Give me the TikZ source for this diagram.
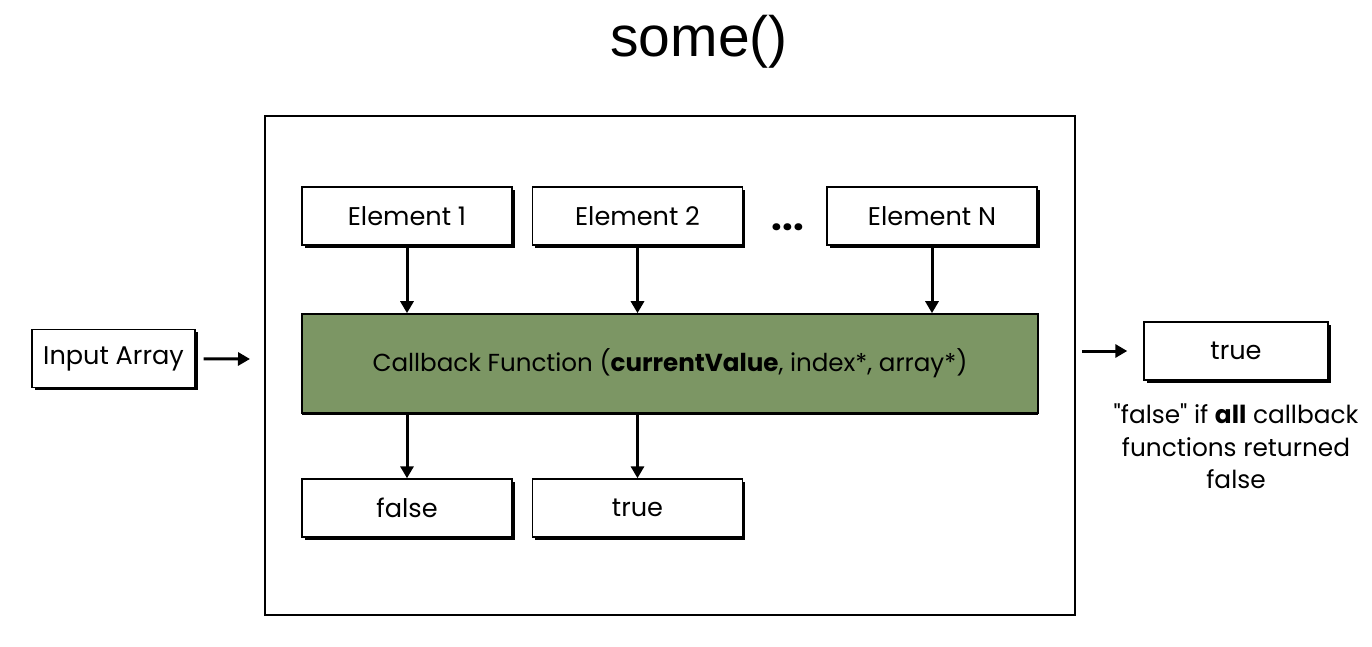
\documentclass[tikz,border=0pt]{standalone}
\usepackage{fontspec}
\setmainfont{Poppins}
\newfontfamily\titlefont{Liberation Sans}
\usetikzlibrary{positioning,arrows.meta,shadows}
\definecolor{cbgreen}{RGB}{124,150,100}
\tikzset{
    card/.style={%
        draw, line width=0.7pt, fill=white,
        minimum width=#1,
        minimum height=29pt,
        font=\fontsize{12.8}{15}\selectfont,
        drop shadow={shadow xshift=1.4pt, shadow yshift=-1.4pt, fill=black, opacity=1}
    },
    card/.default=105pt,
    >={Triangle[width=6.5pt,length=6pt]},
    flow/.style={->, line width=1.5pt}
}
\begin{document}
\begin{tikzpicture}[x=0.5pt, y=-0.5pt]
    \useasboundingbox (0,0) rectangle (1372,647);
    \node[font=\titlefont\fontsize{28.5}{30}\selectfont] (title) at (699,42) {some()};
    \draw[line width=1pt] (265,116) rectangle (1075,615);
    % elements of the array
    \node[card] (E1) at (407,216) {Element 1};
    \node[card] (E2) at (637.5,216) {Element 2};
    \node[card] (EN) at (932,216) {Element N};
    \node[font=\fontsize{19}{19}\selectfont\bfseries] (dots) at (788,227) {...};
    % callback
    \node[draw, line width=0.8pt, fill=cbgreen, minimum width=368pt, minimum height=49.5pt,
          font=\fontsize{12.3}{15}\selectfont,
          drop shadow={shadow xshift=0pt, shadow yshift=-1pt, fill=black, opacity=1}]
          (CB) at (670,363.5) {Callback Function (\textbf{currentValue}, index*, array*)};
    % results
    \node[card] (F) at (407,508) {false};
    \node[card] (T) at (637.5,508) {true};
    \foreach \e in {E1,E2,EN} \draw[flow] (\e) -- (\e |- CB.north);
    \draw[flow] (CB.south -| F) -- (F);
    \draw[flow] (CB.south -| T) -- (T);
    % input and output
    \node[card=81.5pt] (In) at (113.5,358.5) {Input Array};
    \coordinate (inTip) at (250,359);
    \draw[flow, shorten <=4pt] (In) -- (inTip);
    \node[card=92pt] (Out) at (1236,351) {true};
    \coordinate (outTail) at (1082,351);
    \draw[flow, shorten >=8pt] (outTail) -- (Out);
    \node[below=8pt of Out, align=center, font=\fontsize{12.4}{16.3}\selectfont] (note)
          {\textquotedbl false\textquotedbl{} if \textbf{all} callback\\functions returned\\false};
\end{tikzpicture}
\end{document}
